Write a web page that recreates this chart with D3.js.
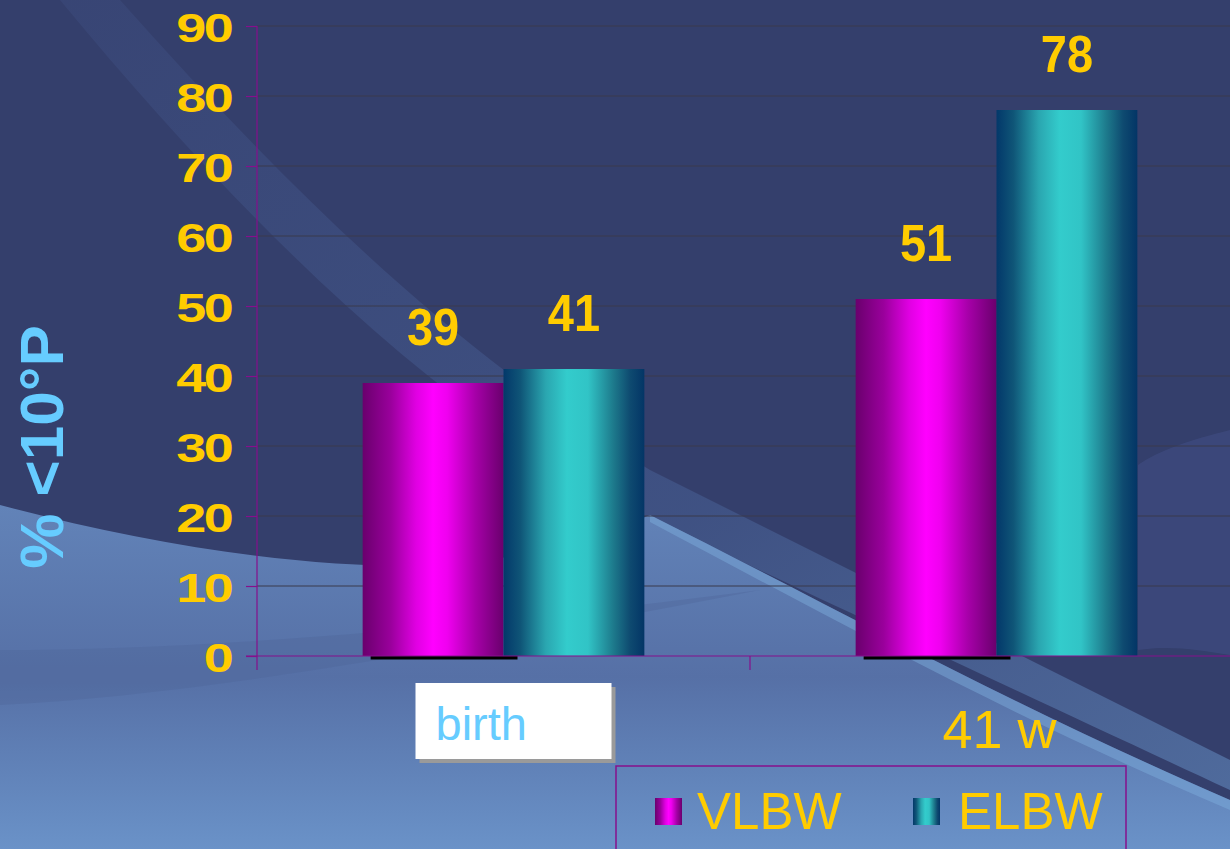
<!DOCTYPE html>
<html>
<meta charset="utf-8">
<head>
<style>
    body { margin: 0; background: #343f6c; }
    svg { display: block; }
    text { font-family: "Liberation Sans", Arial, sans-serif; }
    .grid line { stroke: #3a3b4c; stroke-width: 1.2px; }
    .axis path, .axis line { stroke: #86108c; stroke-width: 1.2px; }
</style>
</head>
<body>
<div id="viz"></div>
<script src="https://cdn.jsdelivr.net/npm/d3@7"></script>
<script>
const width = 1230;
const height = 849;

const categories = ["birth", "41 w"];
const series = ["VLBW", "ELBW"];
const vlbw = [39, 51];
const elbw = [41, 78];
const yTicks = [0, 10, 20, 30, 40, 50, 60, 70, 80, 90];
const yTitle = "% <10°P";

const yellow = "#ffcc00";
const skyBlue = "#66ccff";
const purple = "#86108c";

const margin = { top: 26, left: 257, bottom: 193 };

const svg = d3.select("#viz")
    .append("svg")
    .attr("width", width)
    .attr("height", height);

const defs = svg.append("defs");

// bar gradients (cylinder-like shading)
function hGradient(id, stops) {
    const g = defs.append("linearGradient")
        .attr("id", id)
        .attr("x1", 0).attr("x2", 1).attr("y1", 0).attr("y2", 0);
    stops.forEach(s => g.append("stop").attr("offset", s[0]).attr("stop-color", s[1]));
}
hGradient("grad-VLBW", [
    [0, "#6a006d"], [0.2, "#9a009c"], [0.38, "#e000e2"], [0.5, "#ff00ff"],
    [0.6, "#f000f0"], [0.8, "#a600a8"], [1, "#6a006d"]
]);
hGradient("grad-ELBW", [
    [0, "#03386a"], [0.12, "#0f5577"], [0.3, "#2aa6b0"], [0.45, "#33cccc"],
    [0.6, "#31c4c6"], [0.78, "#1d7a8c"], [0.9, "#0e4a70"], [1, "#033566"]
]);

// background gradients
const bgLow = defs.append("linearGradient")
    .attr("id", "bg-low").attr("x1", 0).attr("x2", 0).attr("y1", 0).attr("y2", 1);
bgLow.append("stop").attr("offset", 0).attr("stop-color", "#6283b8");
bgLow.append("stop").attr("offset", 0.5).attr("stop-color", "#5670a6");
bgLow.append("stop").attr("offset", 1).attr("stop-color", "#6a92c8");

const bgStreak = defs.append("linearGradient")
    .attr("id", "bg-streak").attr("x1", 0).attr("x2", 1).attr("y1", 0).attr("y2", 1);
bgStreak.append("stop").attr("offset", 0).attr("stop-color", "#3c4b7d");
bgStreak.append("stop").attr("offset", 0.6).attr("stop-color", "#4a649a");
bgStreak.append("stop").attr("offset", 1).attr("stop-color", "#6a96cc");

// background
const bg = svg.append("g").attr("class", "background");
bg.append("rect").attr("width", width).attr("height", height).attr("fill", "#343f6c");
bg.append("path")
    .attr("d", "M60,0 L120,0 C280,180 450,350 650,470 L1230,760 L1230,790 C950,660 760,570 610,500 C430,400 250,230 60,0 Z")
    .attr("fill", "url(#bg-streak)")
    .attr("opacity", 0.5);
bg.append("path")
    .attr("d", "M1230,430 C1190,440 1160,450 1138,465 L1138,650 C1170,645 1200,650 1230,655 Z")
    .attr("fill", "#3e4c80")
    .attr("opacity", 0.7);
bg.append("path")
    .attr("d", "M0,505 C150,545 300,568 430,566 C530,560 600,535 650,515 C820,600 1000,700 1230,800 L1230,849 L0,849 Z")
    .attr("fill", "url(#bg-low)");
bg.append("path")
    .attr("d", "M0,650 C200,650 450,630 760,590 C450,650 200,695 0,705 Z")
    .attr("fill", "#4e6498")
    .attr("opacity", 0.35);
bg.append("path")
    .attr("d", "M650,515 C820,600 1000,700 1230,800 L1230,810 C1000,712 820,612 650,522 Z")
    .attr("fill", "#7fb0de")
    .attr("opacity", 0.45);

// scales
const x0 = d3.scaleBand()
    .domain(categories)
    .range([margin.left, margin.left + 2 * 493]);

const x1 = d3.scaleBand()
    .domain(series)
    .range([0, x0.bandwidth()])
    .paddingOuter(0.75);

const y = d3.scaleLinear()
    .domain([0, 90])
    .range([height - margin.bottom, margin.top]);

const baseY = y(0);

// gridlines
svg.append("g")
    .attr("class", "grid")
    .selectAll("line")
    .data(yTicks.filter(d => d > 0))
    .enter()
    .append("line")
    .attr("x1", margin.left)
    .attr("x2", width)
    .attr("y1", d => y(d))
    .attr("y2", d => y(d));

// bars
const data = categories.map((c, i) => ({
    category: c,
    values: [{ key: "VLBW", value: vlbw[i] }, { key: "ELBW", value: elbw[i] }]
}));

const groups = svg.selectAll(".group")
    .data(data)
    .enter()
    .append("g")
    .attr("class", "group")
    .attr("transform", d => "translate(" + x0(d.category) + ",0)");

// shadow under the first bar of each group
groups.append("rect")
    .attr("x", x1("VLBW") + 8)
    .attr("y", baseY)
    .attr("width", x1.bandwidth() + 6)
    .attr("height", 3.5)
    .attr("fill", "#000");

groups.selectAll(".bar")
    .data(d => d.values)
    .enter()
    .append("rect")
    .attr("class", "bar")
    .attr("x", d => x1(d.key))
    .attr("y", d => y(d.value))
    .attr("width", x1.bandwidth())
    .attr("height", d => baseY - y(d.value))
    .attr("fill", d => "url(#grad-" + d.key + ")");

groups.selectAll(".value")
    .data(d => d.values)
    .enter()
    .append("text")
    .attr("class", "value")
    .attr("transform", d => "translate(" + (x1(d.key) + x1.bandwidth() / 2) + "," + (y(d.value) - 38) + ") scale(0.94,1.04)")
    .attr("text-anchor", "middle")
    .attr("font-size", 50)
    .attr("font-weight", "bold")
    .attr("fill", yellow)
    .text(d => d.value);

// y axis
const yAxis = svg.append("g")
    .attr("class", "axis")
    .attr("transform", "translate(" + margin.left + ",0)")
    .call(d3.axisLeft(y).tickValues(yTicks).tickSize(11).tickSizeOuter(0));

yAxis.select(".domain").attr("d", "M0," + y(90) + "V" + (baseY + 14));
yAxis.selectAll("text")
    .attr("x", 0)
    .attr("dy", "0.36em")
    .attr("transform", "translate(-26,1) scale(1.35,1)")
    .attr("font-size", 40)
    .attr("font-weight", "bold")
    .attr("letter-spacing", -2)
    .attr("fill", yellow)
    .attr("font-family", "'Liberation Sans', Arial, sans-serif");

// x axis
svg.append("line")
    .attr("x1", margin.left - 11)
    .attr("x2", width)
    .attr("y1", baseY)
    .attr("y2", baseY)
    .attr("stroke", purple)
    .attr("stroke-width", 1.2);

svg.selectAll(".xtick")
    .data(categories.slice(1))
    .enter()
    .append("line")
    .attr("class", "xtick")
    .attr("x1", d => x0(d))
    .attr("x2", d => x0(d))
    .attr("y1", baseY)
    .attr("y2", baseY + 14)
    .attr("stroke", purple)
    .attr("stroke-width", 1.2);

// category labels
const catG = svg.selectAll(".cat")
    .data(categories)
    .enter()
    .append("g")
    .attr("class", "cat")
    .attr("transform", d => "translate(" + (x0(d) + x0.bandwidth() / 2) + "," + baseY + ")");

catG.filter((d, i) => i === 0).each(function() {
    const g = d3.select(this);
    g.append("rect").attr("x", -84).attr("y", 31).attr("width", 196).attr("height", 76).attr("fill", "#9a9a9a");
    g.append("rect").attr("x", -88).attr("y", 27).attr("width", 196).attr("height", 76).attr("fill", "#fff");
});

catG.append("text")
    .attr("x", (d, i) => i === 0 ? -68 : 3)
    .attr("y", (d, i) => i === 0 ? 84 : 92)
    .attr("text-anchor", (d, i) => i === 0 ? "start" : "middle")
    .attr("font-size", (d, i) => i === 0 ? 47 : 54)
    .attr("fill", (d, i) => i === 0 ? skyBlue : yellow)
    .text(d => d);

// y title
svg.append("text")
    .attr("transform", "translate(63," + 447 + ") rotate(-90)")
    .attr("text-anchor", "middle")
    .attr("font-size", 62)
    .attr("font-weight", "bold")
    .attr("fill", skyBlue)
    .text(yTitle);

// legend
const legend = svg.append("g").attr("class", "legend");
legend.append("rect")
    .attr("x", 616).attr("y", 766)
    .attr("width", 510).attr("height", 120)
    .attr("fill", "none")
    .attr("stroke", purple)
    .attr("stroke-width", 1.5);

const legendX = d3.scalePoint().domain(series).range([655, 913]);

const items = legend.selectAll(".item")
    .data(series)
    .enter()
    .append("g")
    .attr("class", "item")
    .attr("transform", d => "translate(" + legendX(d) + ",798)");

items.append("rect")
    .attr("width", 27)
    .attr("height", 27)
    .attr("fill", d => "url(#grad-" + d + ")");

items.append("text")
    .attr("x", (d, i) => i === 0 ? 42 : 45)
    .attr("y", 31)
    .attr("font-size", 51)
    .attr("fill", yellow)
    .text(d => d);
</script>
</body>
</html>
